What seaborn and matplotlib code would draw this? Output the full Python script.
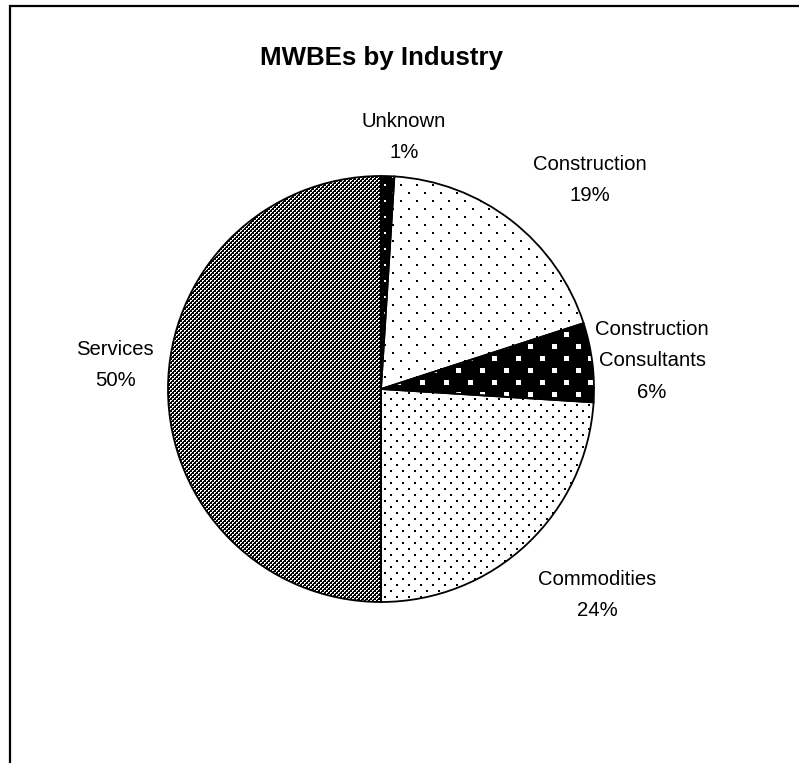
import numpy as np
import matplotlib
matplotlib.use("Agg")
import matplotlib.pyplot as plt
import seaborn as sns
from matplotlib.patches import Rectangle

# Share of MWBE firms per industry (percent), clockwise from 12 o'clock
categories = ["Unknown", "Construction", "Construction\nConsultants", "Commodities", "Services"]
shares = [1, 19, 6, 24, 50]

sns.set_theme(style="white")
plt.rcParams["font.family"] = ["Liberation Sans", "DejaVu Sans"]

W, H = 799, 763
fig = plt.figure(figsize=(W / 100, H / 100), dpi=100)
fig.patch.set_facecolor("white")

# square axes holding the pie (pixel geometry)
cx, cy, R = 381, 389, 213
ax = fig.add_axes([(cx - R) / W, (H - cy - R) / H, 2 * R / W, 2 * R / H])

wedges, _ = ax.pie(
    shares,
    startangle=90,
    counterclock=False,
    radius=1,
    colors=["white"] * len(shares),
    wedgeprops=dict(edgecolor="black", linewidth=1.3),
)
ax.set_xlim(-1, 1)
ax.set_ylim(-1, 1)
ax.set_aspect("auto")
ax.axis("off")


# monochrome fill textures (1 = white, 0 = black)
def dots(size, step, dot, ink, paper):
    t = np.full((size, size), paper, dtype=float)
    t[0:dot, 0:dot] = ink
    t[step:step + dot, step:step + dot] = ink
    return t


def checker():
    light = np.array([[1.0, 1.0], [1.0, 0.0]])
    t = np.zeros((4, 4))
    t[0:2, 2:4] = light
    t[2:4, 0:2] = light
    return t


textures = [
    dots(16, 8, 2, 1.0, 0.0),    # Unknown: white dots on black
    dots(16, 8, 2, 0.0, 1.0),    # Construction: sparse black dots
    dots(24, 12, 5, 1.0, 0.0),   # Consultants: white squares on black
    dots(12, 6, 2, 0.0, 1.0),    # Commodities: denser black dots
    checker(),                   # Services: fine dark checkerboard
]

n = 2 * R
for wedge, tile in zip(wedges, textures):
    reps = n // tile.shape[0] + 2
    img = np.tile(tile, (reps, reps))[:n, :n]
    im = ax.imshow(img, cmap="gray", vmin=0, vmax=1, extent=(-1, 1, -1, 1),
                   interpolation="nearest", zorder=2)
    im.set_clip_path(wedge)
    wedge.set_facecolor("none")
    wedge.set_zorder(3)
ax.set_xlim(-1, 1)
ax.set_ylim(-1, 1)

# data labels placed outside the pie, Excel style
label_px = [(404, 137), (590, 180), (652, 361), (597, 595), (115, 365)]
for cat, val, (px, py) in zip(categories, shares, label_px):
    ax.text((px - cx) / R, (cy - py) / R, f"{cat}\n{val:.0f}%",
            ha="center", va="center", fontsize=14.6, linespacing=1.85,
            color="black", clip_on=False, zorder=5)

fig.text(381 / W, 1 - 58 / H, "MWBEs by Industry", ha="center", va="center",
         fontsize=18.6, fontweight="bold", color="black")

# chart frame
fig.add_artist(Rectangle((9.5 / W, -0.05), 1.2, (H - 5.5) / H + 0.05,
                         transform=fig.transFigure, fill=False,
                         edgecolor="black", linewidth=1.6))

fig.savefig("out.png", dpi=100, facecolor="white")
